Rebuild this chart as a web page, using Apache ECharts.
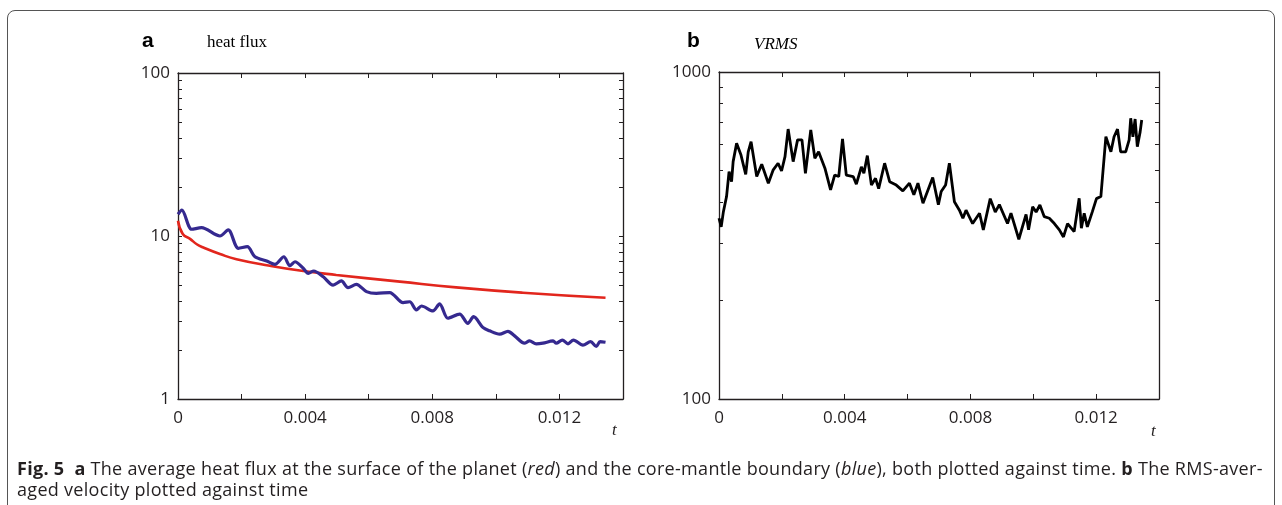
<!DOCTYPE html>
<html lang="en">
<head>
    <meta charset="utf-8">
    <title>Fig. 5 heat flux and VRMS</title>
    <script src="https://cdn.jsdelivr.net/npm/echarts@6/dist/echarts.min.js"></script>
    <style type="text/css">
        body {margin: 0; background: #fff;}
        #wrap {position: relative; width: 1282px; height: 505px; overflow: hidden;}
        #frame {position: absolute; left: 7px; top: 10px; width: 1266px; height: 520px;
            border: 1px solid #555; border-radius: 8px;}
        #chart {position: absolute; left: 0; top: 0; width: 1282px; height: 505px;}
        #caption {position: absolute; left: 17px; top: 458px; width: 1260px; white-space: nowrap;
            font-family: "Open Sans", sans-serif; letter-spacing: 0.3px;
            font-size: 18px; line-height: 21px; color: #231f20;}
    </style>
</head>
<body>
<div id="wrap">
    <div id="frame"></div>
    <div id="chart"></div>
    <div id="caption"><b>Fig. 5</b>&nbsp; <b>a</b> The average heat flux at the surface of the planet (<i>red</i>) and the core-mantle boundary (<i>blue</i>), both plotted against time. <b>b</b> The RMS-aver-<br>aged velocity plotted against time</div>
</div>
<script>
    // panel a: heat flux, core-mantle boundary (blue)
    var tBlue = [0, 0.00012, 0.00043, 0.00074, 0.00132, 0.00158, 0.0019, 0.00218, 0.00242, 0.00279,
        0.00305, 0.00333, 0.00352, 0.00368, 0.00394, 0.0041, 0.00427, 0.00457, 0.00488, 0.00514,
        0.00535, 0.00561, 0.00593, 0.00624, 0.00666, 0.00708, 0.00729, 0.0075, 0.00766, 0.00802,
        0.00823, 0.00849, 0.00886, 0.00912, 0.0093, 0.00959, 0.0098, 0.01012, 0.01038, 0.01059,
        0.0109, 0.01106, 0.01127, 0.01148, 0.0118, 0.0119, 0.01209, 0.01227, 0.01244, 0.01274,
        0.01298, 0.01316, 0.01328, 0.01345];
    var qBlue = [13.6, 14.4, 11.0, 11.25, 10.0, 10.9, 8.4, 8.6, 7.46, 7.03,
        6.7, 7.46, 6.57, 6.95, 6.34, 5.9, 6.1, 5.62, 5.0, 5.3,
        4.82, 5.05, 4.56, 4.45, 4.5, 3.9, 3.95, 3.52, 3.72, 3.47,
        3.83, 3.13, 3.32, 2.91, 3.2, 2.75, 2.62, 2.5, 2.6, 2.44,
        2.2, 2.27, 2.18, 2.2, 2.27, 2.2, 2.3, 2.18, 2.3, 2.14,
        2.25, 2.1, 2.25, 2.23];
    // panel a: heat flux, planet surface (red)
    var tRed = [0, 0.00015, 0.00038, 0.00059, 0.0008, 0.00132, 0.00184, 0.00289, 0.00394,
        0.00498, 0.00698, 0.00875, 0.01085, 0.01345];
    var qRed = [12.4, 10.3, 9.6, 8.9, 8.5, 7.76, 7.2, 6.57, 6.1,
        5.77, 5.25, 4.84, 4.49, 4.18];
    // panel b: VRMS
    var tV = [0, 0.00007, 0.00014, 0.00024, 0.00032, 0.0004, 0.00045, 0.00056, 0.0007, 0.00085,
        0.00093, 0.00102, 0.0012, 0.00136, 0.00157, 0.00172, 0.00188, 0.00199, 0.0021, 0.0022,
        0.00236, 0.0025, 0.00264, 0.00275, 0.00292, 0.00305, 0.00317, 0.00337, 0.00355, 0.00368,
        0.00381, 0.00393, 0.00405, 0.00427, 0.00437, 0.00453, 0.00461, 0.00472, 0.00485, 0.00498,
        0.00508, 0.00527, 0.00543, 0.00564, 0.00585, 0.00606, 0.0062, 0.00633, 0.00649, 0.00665,
        0.0068, 0.00698, 0.00707, 0.00721, 0.00733, 0.00749, 0.00765, 0.00776, 0.00786, 0.00807,
        0.00829, 0.00841, 0.00863, 0.00879, 0.00892, 0.00918, 0.00929, 0.00954, 0.00977, 0.00985,
        0.00998, 0.01009, 0.01021, 0.01035, 0.01051, 0.01067, 0.01083, 0.01096, 0.01109, 0.0113,
        0.01146, 0.01153, 0.01162, 0.01172, 0.01188, 0.01201, 0.01215, 0.01231, 0.01247, 0.01257,
        0.01268, 0.01278, 0.01294, 0.01305, 0.0131, 0.01317, 0.01324, 0.01331, 0.0134, 0.01345];
    var vRms = [357, 336, 374, 416, 496, 462, 532, 605, 557, 486,
        570, 612, 479, 522, 457, 501, 526, 498, 551, 669,
        532, 620, 620, 490, 665, 545, 570, 508, 436, 484,
        479, 624, 484, 479, 454, 513, 490, 555, 451, 473,
        440, 526, 462, 451, 433, 457, 421, 457, 397, 436,
        476, 393, 431, 451, 526, 401, 378, 357, 378, 344,
        370, 329, 410, 373, 393, 344, 370, 308, 367, 329,
        387, 373, 392, 361, 357, 344, 329, 313, 344, 325,
        411, 333, 370, 336, 374, 410, 416, 634, 570, 634,
        669, 570, 570, 620, 722, 634, 718, 591, 656, 713];

    var xLabels = [0, 0.004, 0.008, 0.012];
    var yLabelsA = [1, 10, 100];
    var yLabelsB = [100, 1000];
    var yTicksA = [1, 2, 3, 4, 5, 6, 7, 8, 9, 10, 20, 30, 40, 50, 60, 70, 80, 90, 100];
    var yTicksB = [100, 200, 300, 400, 500, 600, 700, 800, 900, 1000];

    function zip(xs, ys) {
        return xs.map(function (x, i) { return [x, ys[i]]; });
    }

    var ink = '#231f20';
    var lbl = {fontFamily: 'Open Sans', fontSize: 17, color: ink};

    function xAxisFor(g, pos) {
        return {
            gridIndex: g, type: 'value', position: pos, min: 0, max: 0.014, interval: 0.002,
            axisLine: {onZero: false, lineStyle: {color: ink, width: 1.3}},
            axisTick: {inside: true, length: 5, lineStyle: {color: ink, width: 1}},
            axisLabel: pos === 'bottom' ? Object.assign({
                customValues: xLabels, margin: 11,
                formatter: function (v) { return String(+v.toFixed(3)); }
            }, lbl) : {show: false},
            splitLine: {show: false}
        };
    }
    function yAxisFor(g, pos, lo, hi, labels, ticks) {
        return {
            gridIndex: g, type: 'log', logBase: 10, position: pos, min: lo, max: hi,
            axisLine: {onZero: false, lineStyle: {color: ink, width: 1.3}},
            axisTick: {inside: true, length: 4, customValues: ticks, lineStyle: {color: ink, width: 1}},
            axisLabel: pos === 'left' ? Object.assign({
                customValues: labels, margin: 8,
                formatter: function (v) { return String(Math.round(v)); }
            }, lbl) : {show: false},
            splitLine: {show: false}
        };
    }

    var chart = echarts.init(document.getElementById('chart'), null, {renderer: 'canvas'});
    chart.setOption({
        animation: false,
        grid: [
            {left: 178, top: 73, width: 445, height: 326},
            {left: 719, top: 72, width: 440, height: 327}
        ],
        xAxis: [xAxisFor(0, 'bottom'), xAxisFor(0, 'top'), xAxisFor(1, 'bottom'), xAxisFor(1, 'top')],
        yAxis: [
            yAxisFor(0, 'left', 1, 100, yLabelsA, yTicksA),
            yAxisFor(0, 'right', 1, 100, yLabelsA, yTicksA),
            yAxisFor(1, 'left', 100, 1000, yLabelsB, yTicksB),
            yAxisFor(1, 'right', 100, 1000, yLabelsB, yTicksB)
        ],
        series: [
            {type: 'line', xAxisIndex: 0, yAxisIndex: 0, data: zip(tRed, qRed), smooth: true,
                showSymbol: false, lineStyle: {color: '#e2261d', width: 2.6}},
            {type: 'line', xAxisIndex: 0, yAxisIndex: 0, data: zip(tBlue, qBlue), smooth: 0.3,
                showSymbol: false, lineStyle: {color: '#35298f', width: 3.2}},
            {type: 'line', xAxisIndex: 2, yAxisIndex: 2, data: zip(tV, vRms),
                showSymbol: false, lineStyle: {color: '#000', width: 2.8}}
        ],
        graphic: [
            {type: 'text', left: 142, top: 31, style: {text: 'a', font: 'bold 21px "Liberation Sans"', fill: '#000'}},
            {type: 'text', left: 207, top: 34, style: {text: 'heat flux', font: '17px "Liberation Serif"', fill: '#000'}},
            {type: 'text', left: 687, top: 31, style: {text: 'b', font: 'bold 21px "Liberation Sans"', fill: '#000'}},
            {type: 'text', left: 754, top: 36, style: {text: 'VRMS', font: 'italic 17px "Liberation Serif"', fill: '#000'}},
            {type: 'text', left: 612, top: 422, style: {text: 't', font: 'italic 17px "Liberation Serif"', fill: ink}},
            {type: 'text', left: 1151, top: 423, style: {text: 't', font: 'italic 17px "Liberation Serif"', fill: ink}}
        ]
    });
</script>
</body>
</html>
